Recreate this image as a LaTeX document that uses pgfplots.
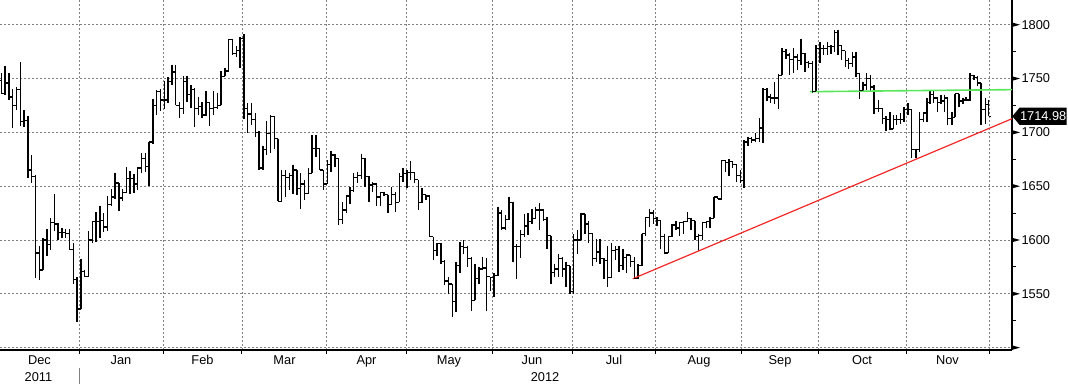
\documentclass[border=0pt]{standalone}
\usepackage{fontspec}
\setmainfont{Liberation Sans}
\usepackage{pgfplots}
\usepackage{pgfplotstable}
\pgfplotsset{compat=1.18}
\usetikzlibrary{shapes.symbols}
\definecolor{trendred}{RGB}{240,40,40}
\definecolor{trendgreen}{RGB}{90,230,90}
\definecolor{gridgray}{RGB}{128,128,128}
\newcommand{\lab}{\fontsize{9.6pt}{11pt}\selectfont}
\pgfdeclareplotmark{otick}{\pgfpathmoveto{\pgfqpoint{-1.6pt}{0pt}}\pgfpathlineto{\pgfqpoint{0pt}{0pt}}\pgfusepathqstroke}
\pgfdeclareplotmark{ctick}{\pgfpathmoveto{\pgfqpoint{0pt}{0pt}}\pgfpathlineto{\pgfqpoint{1.6pt}{0pt}}\pgfusepathqstroke}
\pgfdeclareplotmark{hl}{\pgfpathmoveto{\pgfqpoint{0pt}{0pt}}\pgfpathlineto{\pgfqpoint{0pt}{0pt}}}
\pgfplotstableread{
x o h l c
-21 1748 1755 1736 1736
-20 1736 1762 1735 1746
-19 1746 1755 1730 1733
-18 1733 1740 1704 1725
-17 1725 1742 1721 1740
-16 1740 1765 1706 1710
-15 1710 1721 1705 1711
-14 1711 1715 1658 1665
-13 1665 1679 1653 1659
-12 1659 1660 1565 1588
-11 1588 1594 1563 1572
-10 1572 1602 1572 1600
-9 1600 1610 1585 1596
-8 1596 1620 1591 1616
-7 1616 1643 1608 1615
-6 1615 1616 1600 1607
-5 1607 1611 1602 1607
-4 1607 1610 1602 1606
-3 1606 1610 1591 1591
-2 1591 1597 1559 1563
-1 1563 1566 1524 1536
0 1536 1582 1536 1571
1 1571 1572 1566 1566
2 1566 1608 1566 1600
3 1600 1617 1597 1617
4 1617 1626 1598 1617
5 1617 1632 1602 1618
6 1618 1625 1607 1612
7 1612 1641 1608 1633
8 1633 1647 1632 1640
9 1640 1662 1638 1653
10 1653 1653 1627 1639
11 1639 1647 1636 1644
12 1644 1668 1644 1657
13 1657 1664 1643 1657
14 1657 1661 1644 1652
15 1652 1668 1646 1667
16 1667 1681 1662 1676
17 1676 1681 1663 1668
18 1668 1691 1650 1691
19 1691 1731 1689 1725
20 1725 1739 1716 1738
21 1738 1740 1720 1730
22 1730 1748 1722 1730
23 1730 1751 1727 1747
24 1747 1763 1744 1756
25 1756 1763 1725 1725
26 1725 1728 1713 1722
27 1722 1752 1717 1747
28 1747 1752 1728 1735
29 1735 1744 1723 1740
30 1740 1741 1705 1722
31 1722 1733 1716 1724
32 1724 1728 1713 1716
33 1716 1738 1715 1728
34 1728 1728 1706 1722
35 1722 1738 1716 1723
36 1723 1737 1722 1725
37 1725 1757 1725 1752
38 1752 1760 1752 1757
39 1757 1787 1757 1786
40 1786 1787 1772 1773
41 1773 1780 1770 1776
42 1776 1789 1760 1787
43 1787 1791 1712 1722
44 1722 1727 1699 1717
45 1717 1727 1707 1712
46 1712 1718 1696 1700
47 1700 1701 1665 1667
48 1667 1687 1665 1684
49 1684 1711 1679 1699
50 1699 1716 1681 1715
51 1715 1715 1685 1694
52 1694 1694 1636 1636
53 1636 1665 1635 1660
54 1660 1665 1640 1658
55 1658 1662 1646 1660
56 1660 1670 1643 1665
57 1665 1665 1642 1648
58 1648 1662 1629 1652
59 1652 1656 1637 1643
60 1643 1667 1643 1662
61 1662 1698 1662 1685
62 1685 1698 1677 1685
63 1685 1685 1665 1665
64 1665 1665 1646 1652
65 1652 1674 1652 1670
66 1670 1683 1663 1679
67 1679 1680 1668 1676
68 1676 1676 1614 1619
69 1619 1635 1615 1628
70 1628 1642 1625 1641
71 1641 1649 1633 1646
72 1646 1662 1645 1658
73 1658 1663 1653 1660
74 1660 1680 1657 1676
75 1676 1676 1649 1659
76 1659 1659 1635 1651
77 1651 1654 1645 1652
78 1652 1653 1632 1640
79 1640 1645 1632 1644
80 1644 1645 1641 1642
81 1642 1642 1625 1633
82 1633 1649 1633 1642
83 1642 1645 1626 1635
84 1635 1662 1635 1659
85 1659 1667 1654 1662
86 1662 1665 1648 1663
87 1663 1673 1656 1663
88 1663 1663 1653 1656
89 1656 1656 1628 1635
90 1635 1648 1634 1642
91 1642 1642 1637 1641
92 1641 1641 1603 1603
93 1603 1603 1581 1590
94 1590 1597 1585 1597
95 1597 1597 1578 1580
96 1580 1581 1558 1562
97 1562 1566 1550 1559
98 1559 1559 1528 1543
99 1543 1580 1533 1576
100 1576 1598 1569 1594
101 1594 1600 1587 1593
102 1593 1594 1575 1583
103 1583 1584 1534 1544
104 1544 1578 1544 1564
105 1564 1575 1559 1573
106 1573 1584 1573 1574
107 1574 1583 1534 1566
108 1566 1566 1553 1565
109 1565 1569 1547 1567
110 1567 1631 1567 1625
111 1625 1628 1609 1611
112 1611 1623 1609 1619
113 1619 1640 1619 1635
114 1635 1635 1580 1594
115 1594 1596 1564 1594
116 1594 1609 1583 1605
117 1605 1624 1603 1613
118 1613 1625 1605 1617
119 1617 1629 1615 1620
120 1620 1631 1620 1628
121 1628 1634 1609 1628
122 1628 1629 1618 1619
123 1619 1621 1592 1604
124 1604 1604 1559 1570
125 1570 1578 1566 1573
126 1573 1587 1566 1583
127 1583 1584 1566 1573
128 1573 1580 1556 1576
129 1576 1576 1550 1552
130 1552 1606 1550 1600
131 1600 1609 1587 1600
132 1600 1625 1600 1624
133 1624 1624 1606 1615
134 1615 1618 1597 1606
135 1606 1606 1576 1583
136 1583 1601 1580 1589
137 1589 1601 1578 1583
138 1583 1583 1564 1581
139 1581 1594 1556 1565
140 1565 1597 1565 1590
141 1590 1594 1581 1591
142 1591 1594 1570 1576
143 1576 1592 1572 1584
144 1584 1587 1569 1586
145 1586 1586 1575 1580
146 1580 1584 1564 1564
147 1564 1578 1564 1576
148 1576 1606 1576 1606
149 1606 1621 1604 1621
150 1621 1629 1612 1625
151 1625 1628 1615 1620
152 1620 1621 1613 1618
153 1618 1618 1592 1603
154 1603 1606 1587 1588
155 1588 1603 1588 1603
156 1603 1615 1603 1614
157 1614 1618 1609 1611
158 1611 1617 1604 1616
159 1616 1618 1606 1617
160 1617 1626 1617 1620
161 1620 1620 1609 1618
162 1618 1618 1600 1603
163 1603 1606 1590 1604
164 1604 1617 1600 1616
165 1616 1618 1611 1617
166 1617 1621 1611 1620
167 1620 1640 1620 1640
168 1640 1640 1638 1638
169 1638 1674 1637 1674
170 1674 1674 1663 1672
171 1672 1675 1659 1673
172 1673 1673 1667 1670
173 1670 1670 1654 1660
174 1660 1665 1653 1655
175 1655 1693 1648 1691
176 1691 1696 1687 1694
177 1694 1696 1690 1693
178 1693 1699 1691 1694
179 1694 1713 1691 1704
180 1704 1741 1690 1740
181 1740 1741 1729 1733
182 1733 1736 1727 1732
183 1732 1747 1726 1732
184 1732 1754 1722 1753
185 1753 1778 1753 1775
186 1775 1777 1768 1772
187 1772 1774 1753 1768
188 1768 1778 1755 1770
189 1770 1773 1758 1767
190 1767 1787 1763 1773
191 1773 1774 1756 1765
192 1765 1766 1760 1764
193 1764 1766 1737 1738
194 1738 1781 1738 1778
195.0 1778 1784 1764 1778
196.0 1778 1781 1772 1778
197.0 1778 1784 1772 1780
197.9 1780 1781 1773 1780
198.9 1780 1795 1775 1793
199.8 1793 1795 1772 1781
200.7 1781 1781 1767 1776
201.7 1776 1776 1761 1767
202.6 1767 1769 1759 1764
203.6 1764 1775 1761 1770
204.5 1770 1775 1751 1755
205.4 1755 1755 1731 1739
206.4 1739 1747 1738 1744
207.3 1744 1755 1739 1750
208.3 1750 1753 1738 1742
209.3 1742 1744 1717 1722
210.4 1722 1730 1719 1722
211.5 1722 1722 1708 1713
212.4 1713 1715 1701 1712
213.5 1712 1719 1702 1703
214.4 1703 1716 1703 1712
215.2 1712 1716 1707 1712
216.3 1712 1718 1708 1712
217.2 1712 1724 1710 1721
218.2 1721 1727 1716 1721
219.2 1721 1721 1676 1684
220.3 1684 1685 1676 1684
221.2 1684 1719 1682 1712
222.3 1712 1719 1710 1718
223.2 1718 1732 1710 1728
224.0 1728 1739 1726 1735
224.9 1735 1739 1727 1732
226.0 1732 1733 1719 1728
226.9 1728 1735 1726 1729
227.8 1729 1735 1719 1732
228.7 1732 1732 1707 1713
229.8 1713 1719 1707 1714
230.6 1714 1736 1714 1736
231.7 1736 1736 1724 1729
232.7 1729 1732 1726 1730
233.5 1730 1733 1729 1730
234.6 1730 1755 1729 1753
235.6 1753 1753 1749 1751
236.6 1751 1752 1743 1746
237.5 1746 1746 1707 1721
238.6 1721 1732 1708 1726
239.5 1726 1730 1715 1714.98
}\ohlc
\begin{document}
\begin{tikzpicture}
\useasboundingbox (0,0) rectangle (801pt,288pt);
\begin{axis}[
  at={(0pt,25.5pt)}, anchor=south west,
  scale only axis, width=759pt, height=262.5pt,
  xmin=-21.35, xmax=245.67, ymin=1497.8, ymax=1823,
  axis x line=bottom, axis y line=right,
  axis line style={-, black, line width=0.9pt},
  every outer x axis line/.append style={-},
  every outer y axis line/.append style={-},
  xtick={-0.5,21.66,42.5,64.9,85.8,108.5,129.6,151.7,174.4,194.5,217.7,239.6},
  xticklabels={},
  tick align=outside,
  major tick length=3pt,
  xtick style={black, line width=0.75pt},
  ytick={1500,1550,1600,1650,1700,1750,1800},
  yticklabels={,1550,1600,1650,1700,1750,1800},
  ytick style={draw=none},
  yticklabel style={anchor=west, inner sep=0pt, xshift=4pt, font=\lab},
  xmajorgrids, ymajorgrids,
  major grid style={gridgray, line width=0.65pt, dash pattern=on 1.4pt off 1.6pt},
  clip=false,
]
% high-low ranges
\addplot[draw=none, mark=hl,
  error bars/.cd, y dir=minus, y explicit, error mark=none,
  error bar style={draw=black, solid, line width=1.05pt}]
  table[x=x, y=h, y error expr=\thisrow{h}-\thisrow{l}] {\ohlc};
% open ticks
\addplot[only marks, mark=otick, mark options={draw=black, solid, line width=1.0pt}]
  table[x=x, y=o] {\ohlc};
% close ticks
\addplot[only marks, mark=ctick, mark options={draw=black, solid, line width=1.0pt}]
  table[x=x, y=c] {\ohlc};
% trend lines
\addplot[trendred, line width=0.9pt, mark=none] coordinates {(145.6,1564) (245.67,1712.7)};
\addplot[trendgreen, line width=1.2pt, mark=none] coordinates {(192.4,1737.8) (245.67,1739.7)};
% right axis tick marks
\pgfplotsinvokeforeach{1500,1550,1600,1650,1700,1750,1800}{
  \fill[black] (axis cs:245.67,#1) ++(0pt,1.7pt) -- ++(6pt,-1.7pt) -- ++(-6pt,-1.7pt) -- cycle;
}
\pgfplotsinvokeforeach{1525,1575,1625,1675,1725,1775}{
  \draw[black, line width=0.75pt] (axis cs:245.67,#1) -- ++(3.2pt,0pt);
}
% last price label
\node[signal, signal to=west, signal pointer angle=100, fill=black, text=white,
  minimum height=13pt, inner xsep=0.3pt, inner ysep=0pt, anchor=west, font=\lab]
  at (axis cs:245.67,1714.98) {1714.98};
\end{axis}
\begin{scope}[x=0.75pt, y=-0.75pt, shift={(0pt,288pt)}]
  \foreach \m/\px in {Dec/39.5, Jan/121, Feb/202.5, Mar/284.5, Apr/366.5, May/449, Jun/532, Jul/614, Aug/699, Sep/780, Oct/862, Nov/947.5}{
    \node[anchor=base, inner sep=0pt, font=\lab] at (\px,365) {\m};
  }
  \node[anchor=base, inner sep=0pt, font=\lab] at (38.5,381.5) {2011};
  \node[anchor=base, inner sep=0pt, font=\lab] at (545,381.5) {2012};
  \draw[gridgray, line width=0.75pt] (79,368) -- (79,384);
\end{scope}
\end{tikzpicture}
\end{document}
